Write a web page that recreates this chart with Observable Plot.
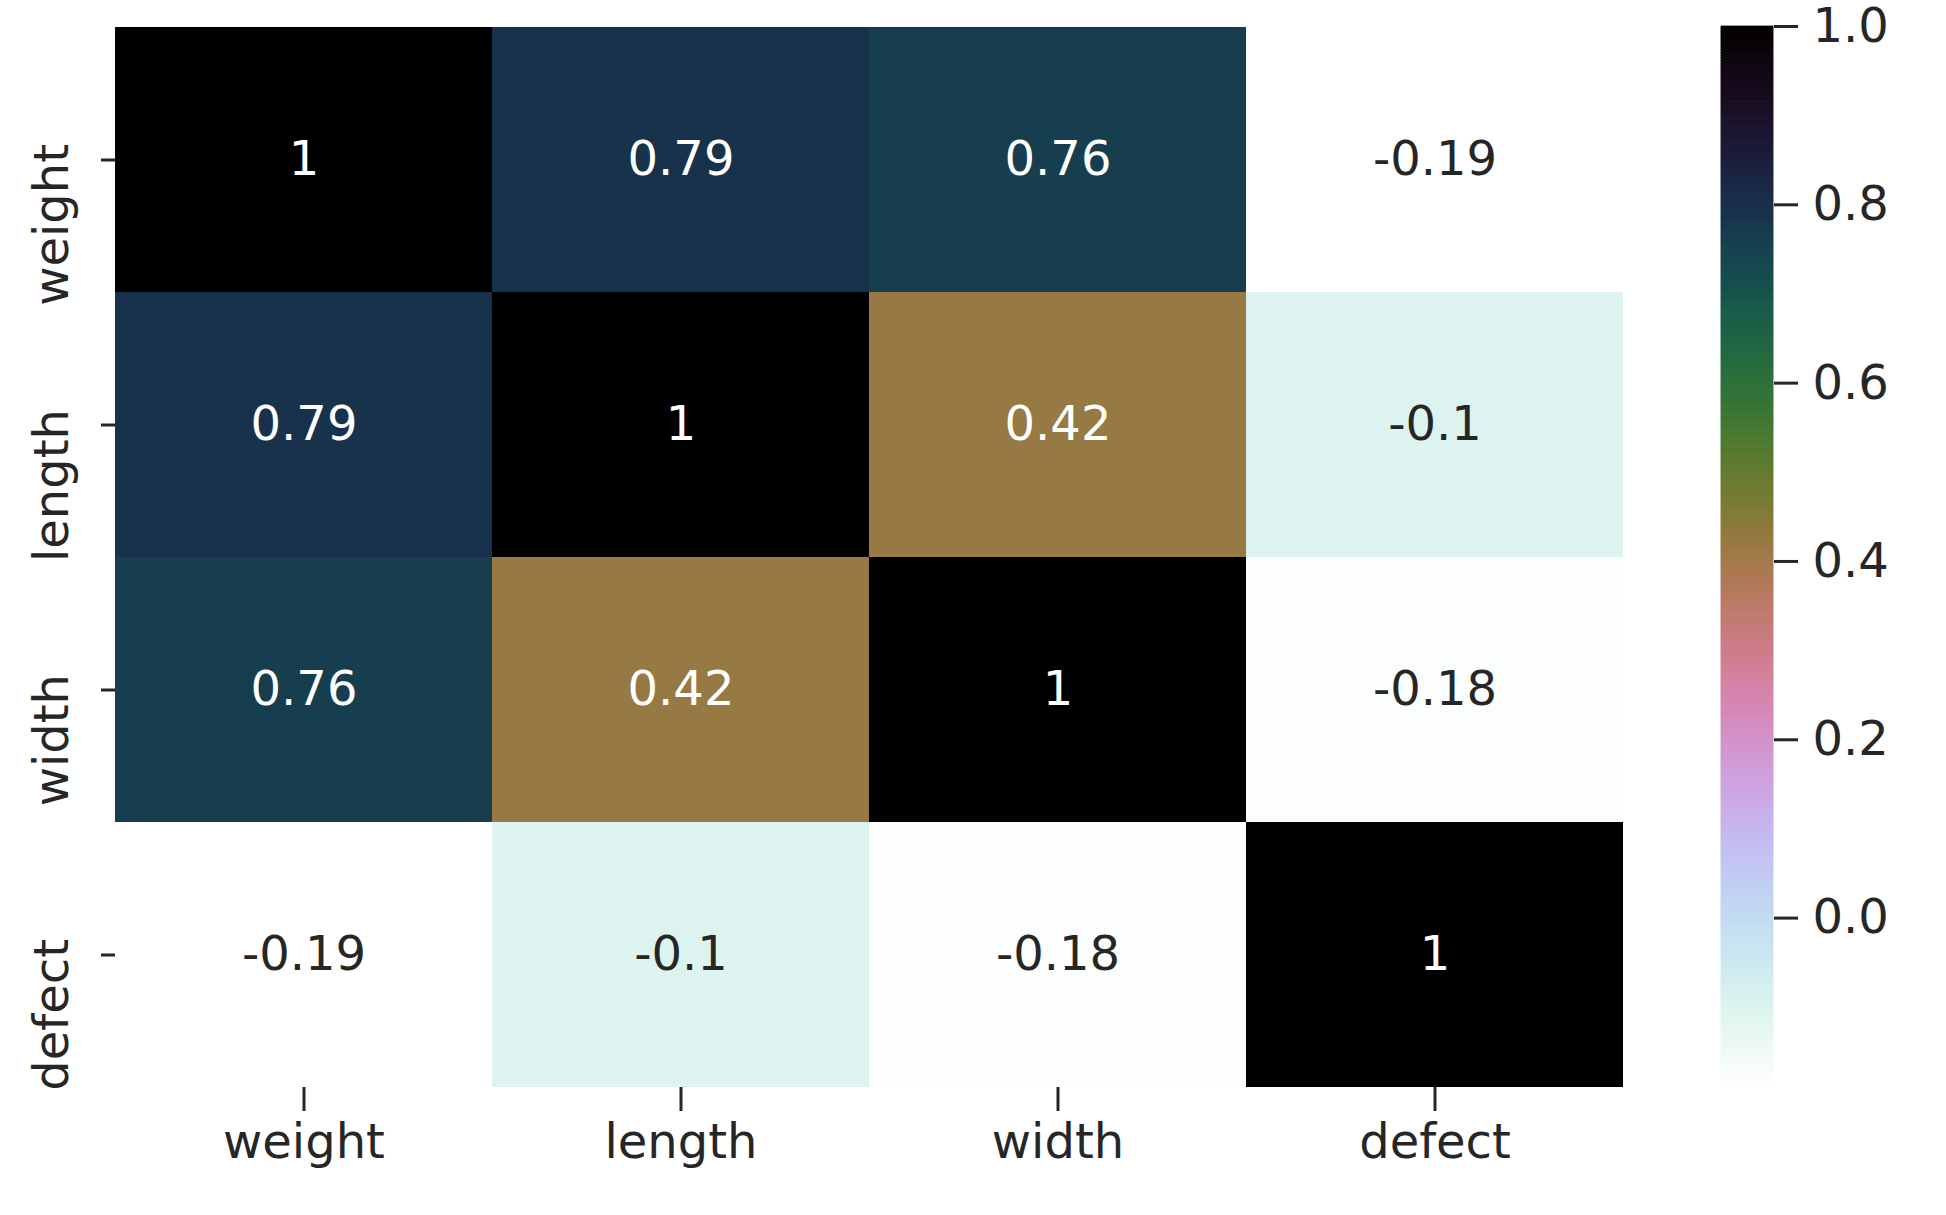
<!DOCTYPE html>
<html><head><meta charset="utf-8">
<script src="https://cdn.jsdelivr.net/npm/d3@7"></script>
<script src="https://cdn.jsdelivr.net/npm/@observablehq/plot@0.6"></script>
<style>
body{margin:0;background:#fff;}
#wrap{position:relative;width:1946px;height:1215px;overflow:hidden;font-family:"DejaVu Sans",sans-serif;background:#fff;}
#main,#cbar{position:absolute;top:0;}
#main{left:0}
#cbar{left:1721px}
</style></head><body><div id="wrap"><div id="main"></div><div id="cbar"></div></div>
<script>
// ---- data ----
const variables = ["weight", "length", "width", "defect"];
const rowWeight = [1, 0.79, 0.76, -0.19];
const rowLength = [0.79, 1, 0.42, -0.1];
const rowWidth  = [0.76, 0.42, 1, -0.18];
const rowDefect = [-0.19, -0.1, -0.18, 1];
const colorbarTicks = [0, 0.2, 0.4, 0.6, 0.8, 1.0];
const vmin = -0.19, vmax = 1;

const rows = [rowWeight, rowLength, rowWidth, rowDefect];
const cells = [];
rows.forEach((r, i) => r.forEach((v, j) => cells.push({row: variables[i], col: variables[j], value: v})));

// matplotlib cubehelix (start .5, rot -1.5, hue 1, gamma 1), reversed
function mplCubehelix(f) {
  const s = 0.5, r = -1.5, h = 1;
  const a = h * f * (1 - f) / 2;
  const phi = 2 * Math.PI * (s / 3 + r * f);
  const c = Math.cos(phi), sn = Math.sin(phi);
  const R = f + a * (-0.14861 * c + 1.78277 * sn);
  const G = f + a * (-0.29227 * c - 0.90649 * sn);
  const B = f + a * (1.97294 * c);
  const cl = v => Math.round(255 * Math.max(0, Math.min(1, v)));
  return `rgb(${cl(R)},${cl(G)},${cl(B)})`;
}
const interp = t => mplCubehelix(1 - t);
const colorScale = {type: "linear", domain: [vmin, vmax], interpolate: interp};
const ink = "#262626";
const fs = 48;

const main = Plot.plot({
  width: 1700, height: 1215,
  marginLeft: 115, marginRight: 77, marginTop: 26, marginBottom: 128,
  style: {fontFamily: "DejaVu Sans", background: "white", overflow: "visible"},
  x: {domain: variables, padding: 0, label: null},
  y: {domain: variables, padding: 0, label: null},
  color: colorScale,
  marks: [
    Plot.cell(cells, {x: "col", y: "row", fill: "value", inset: 0, shapeRendering: "crispEdges"}),
    Plot.text(cells, {filter: d => d.value > 0.2, x: "col", y: "row", text: d => String(d.value), fill: "white", fontSize: fs}),
    Plot.text(cells, {filter: d => d.value <= 0.2, x: "col", y: "row", text: d => String(d.value), fill: ink, fontSize: fs}),
    Plot.axisX({tickSize: 24, tickPadding: 12, fontSize: fs, strokeWidth: 3, color: ink, label: null}),
    Plot.axisY({tickSize: 14, tickFormat: () => "", strokeWidth: 3, color: ink, label: null}),
    Plot.text(variables, {y: d => d, text: d => d, frameAnchor: "left", dx: -48, dy: -16, rotate: -90,
      textAnchor: "end", lineAnchor: "bottom", fontSize: fs, fill: ink})
  ]
});
document.getElementById("main").appendChild(main);

const N = 400;
const stops = d3.range(N).map(i => ({y1: vmin + (vmax - vmin) * i / N, y2: vmin + (vmax - vmin) * (i + 1) / N}));
const cbar = Plot.plot({
  width: 225, height: 1215,
  marginLeft: 0, marginRight: 173, marginTop: 26, marginBottom: 128,
  style: {fontFamily: "DejaVu Sans", background: "white", overflow: "visible"},
  y: {domain: [vmin, vmax], label: null},
  color: colorScale,
  marks: [
    Plot.rect(stops, {y1: "y1", y2: "y2", fill: d => (d.y1 + d.y2) / 2, stroke: d => (d.y1 + d.y2) / 2, strokeWidth: 0.8}),
    Plot.axisY({anchor: "right", ticks: colorbarTicks, tickFormat: d3.format(".1f"), tickSize: 24, tickPadding: 15,
      fontSize: fs, strokeWidth: 3, color: ink, label: null})
  ]
});
document.getElementById("cbar").appendChild(cbar);
</script></body></html>
